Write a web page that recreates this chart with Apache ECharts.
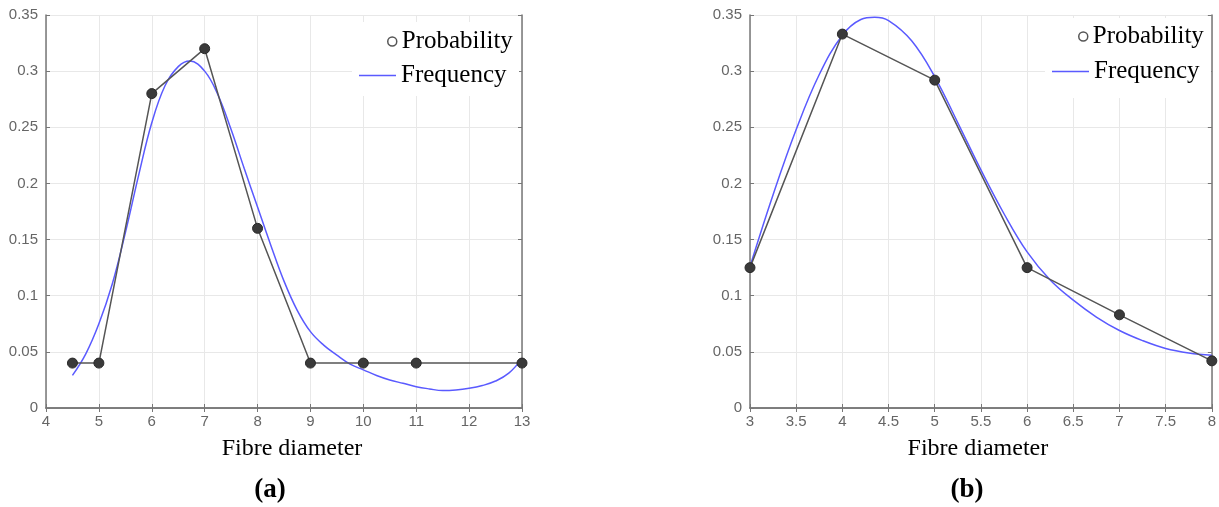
<!DOCTYPE html>
<html>
<head>
<meta charset="utf-8">
<script src="https://cdn.jsdelivr.net/npm/echarts@6/dist/echarts.min.js"></script>
<style>
  html, body { margin: 0; padding: 0; background: #fff; }
  #main { width: 1219px; height: 507px; }
</style>
</head>
<body>
<div id="main"></div>
<script>
// (a) data
var aDiam = [4.5, 5, 6, 7, 8, 9, 10, 11, 13];
var aProb = [0.04, 0.04, 0.28, 0.32, 0.16, 0.04, 0.04, 0.04, 0.04];
var aFitX = [4.5, 4.75, 5, 5.25, 5.5, 5.75, 6, 6.25, 6.5, 6.72, 7, 7.25, 7.5, 7.75, 8, 8.25, 8.5, 8.75, 9, 9.25, 9.5, 9.75,
             10, 10.25, 10.5, 10.75, 11, 11.25, 11.5, 11.75, 12, 12.25, 12.5, 12.75, 13];
var aFitY = [0.029, 0.048, 0.075, 0.11, 0.156, 0.207, 0.254, 0.287, 0.304, 0.309, 0.300, 0.279, 0.248, 0.213, 0.179, 0.145, 0.113, 0.087, 0.068, 0.056, 0.047, 0.039,
             0.034, 0.029, 0.025, 0.022, 0.019, 0.017, 0.0155, 0.016, 0.0175, 0.020, 0.024, 0.031, 0.044];

// (b) data
var bDiam = [3, 4, 5, 6, 7, 8];
var bProb = [0.125, 0.333, 0.292, 0.125, 0.083, 0.042];
var bFitX = [3, 3.25, 3.5, 3.75, 4, 4.2, 4.35, 4.5, 4.75, 5, 5.25, 5.5, 5.75, 6, 6.25, 6.5, 6.75, 7, 7.25, 7.5, 7.75, 8];
var bFitY = [0.126, 0.19, 0.248, 0.297, 0.332, 0.346, 0.348, 0.345, 0.327, 0.295, 0.254, 0.212, 0.173, 0.139, 0.114, 0.096, 0.081, 0.069, 0.060, 0.053, 0.049, 0.047];

var yTicks = { min: 0, max: 0.35, interval: 0.05 };
var serif = 'Liberation Serif';
var sans = 'Liberation Sans';

function pairs(xs, ys) {
  return xs.map(function (x, i) { return [x, ys[i]]; });
}

function mainX(grid, min, max, step, namePad) {
  return {
    type: 'value', gridIndex: grid, position: 'bottom',
    min: min, max: max, interval: step,
    name: 'Fibre diameter', nameLocation: 'middle', nameGap: 29,
    nameTextStyle: { fontFamily: serif, fontSize: 24, color: '#000', padding: namePad },
    axisLine: { show: true, lineStyle: { color: '#777', width: 1.5 } },
    axisTick: { show: true, inside: true, length: 4, lineStyle: { color: '#777' } },
    axisLabel: { fontFamily: sans, fontSize: 15, color: '#666', margin: 6 },
    splitLine: { show: true, lineStyle: { color: '#e8e8e8' } }
  };
}
function boxX(grid, min, max, step) {
  return {
    type: 'value', gridIndex: grid, position: 'top',
    min: min, max: max, interval: step,
    axisLine: { show: true, lineStyle: { color: '#777', width: 1.5 } },
    axisTick: { show: true, inside: true, length: 4, lineStyle: { color: '#777' } },
    axisLabel: { show: false }, splitLine: { show: false }
  };
}
function mainY(grid) {
  return {
    type: 'value', gridIndex: grid, position: 'left',
    min: yTicks.min, max: yTicks.max, interval: yTicks.interval,
    axisLine: { show: true, lineStyle: { color: '#777', width: 1.5 } },
    axisTick: { show: true, inside: true, length: 4, lineStyle: { color: '#777' } },
    axisLabel: { fontFamily: sans, fontSize: 15, color: '#666', margin: 8 },
    splitLine: { show: true, lineStyle: { color: '#e8e8e8' } }
  };
}
function boxY(grid) {
  return {
    type: 'value', gridIndex: grid, position: 'right',
    min: yTicks.min, max: yTicks.max, interval: yTicks.interval,
    axisLine: { show: true, lineStyle: { color: '#777', width: 1.5 } },
    axisTick: { show: true, inside: true, length: 4, lineStyle: { color: '#777' } },
    axisLabel: { show: false }, splitLine: { show: false }
  };
}

function probSeries(xi, yi, data) {
  return {
    name: 'Probability', type: 'line', xAxisIndex: xi, yAxisIndex: yi,
    data: data, symbol: 'circle', symbolSize: 10,
    itemStyle: { color: '#3a3a3a', borderColor: '#2a2a2a', borderWidth: 1 },
    lineStyle: { color: '#555', width: 1.5 }, z: 3
  };
}
function fitSeries(xi, yi, data) {
  return {
    name: 'Frequency', type: 'line', xAxisIndex: xi, yAxisIndex: yi,
    data: data, symbol: 'none', smooth: 0.4,
    lineStyle: { color: '#5a5aff', width: 1.5 }, itemStyle: { color: '#5a5aff' }, z: 2
  };
}

function legendItem(name, left, top) {
  var item = name === 'Probability'
    ? { name: name, icon: 'circle', itemStyle: { color: '#fff', borderColor: '#555', borderWidth: 1.5 } }
    : { name: name, icon: 'rect', itemStyle: { color: '#5a5aff' } };
  return {
    data: [item], left: left, top: top, padding: 0,
    itemWidth: name === 'Probability' ? 9 : 37,
    itemHeight: name === 'Probability' ? 9 : 1.5,
    selectedMode: false,
    textStyle: { fontFamily: serif, fontSize: 25, color: '#000', lineHeight: 25 }
  };
}

var chart = echarts.init(document.getElementById('main'));
var option = {
  animation: false,
  backgroundColor: '#fff',
  grid: [
    { left: 46, top: 15, width: 476, height: 393 },
    { left: 750, top: 15, width: 465, height: 393 }
  ],
  xAxis: [
    mainX(0, 4, 13, 1, [0, 0, 0, 16]), boxX(0, 4, 13, 1),
    mainX(1, 3, 8, 0.5, [0, 6, 0, 0]), boxX(1, 3, 8, 0.5)
  ],
  yAxis: [mainY(0), boxY(0), mainY(1), boxY(1)],
  legend: [
    legendItem('Probability', 387, 29),
    legendItem('Frequency', 359, 63),
    legendItem('Probability', 1078, 24),
    legendItem('Frequency', 1052, 59)
  ],
  graphic: [
    { type: 'rect', shape: { x: 352, y: 22, width: 167, height: 74 }, style: { fill: '#fff' }, z: 1, silent: true },
    { type: 'rect', shape: { x: 1045, y: 18, width: 166, height: 80 }, style: { fill: '#fff' }, z: 1, silent: true },
    { type: 'text', x: 270, y: 490, style: { text: '(a)', font: 'bold 27px "Liberation Serif"', fill: '#000', textAlign: 'center', textVerticalAlign: 'middle' } },
    { type: 'text', x: 967, y: 490, style: { text: '(b)', font: 'bold 27px "Liberation Serif"', fill: '#000', textAlign: 'center', textVerticalAlign: 'middle' } }
  ],
  series: [
    fitSeries(0, 0, pairs(aFitX, aFitY)),
    probSeries(0, 0, pairs(aDiam, aProb)),
    fitSeries(2, 2, pairs(bFitX, bFitY)),
    probSeries(2, 2, pairs(bDiam, bProb))
  ]
};
chart.setOption(option);
</script>
</body>
</html>
